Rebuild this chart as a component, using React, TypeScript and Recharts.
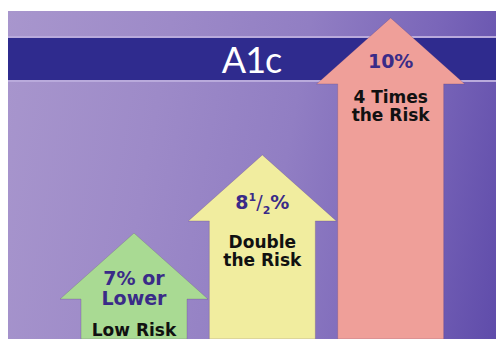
import { Bar, BarChart, Cell, XAxis, YAxis } from 'recharts'

const riskTiers = ['Low', 'Double', 'Four times']
const arrowReach = [32.0, 55.6, 97.0]
const a1cLevels = [['7% or', 'Lower'], ['8½%'], ['10%']]
const riskLabels = [['Low Risk'], ['Double', 'the Risk'], ['4 Times', 'the Risk']]
const bandTitle = 'A1c'

const arrowColors = ['#a9da93', '#f1ed9f', '#ef9f99']
const levelColor = '#3a2b88'
const textFont = '"DejaVu Sans", sans-serif'
const headHeight = 66
const headWidth = 148
// baseline offsets below each arrow tip
const levelOffset = [52, 54, 50]
const riskOffset = [103, 93, 85]

const chartData = riskTiers.map((tier, i) => ({
  tier,
  reach: arrowReach[i],
  level: a1cLevels[i],
  risk: riskLabels[i]
}))

function LevelText({ line, x, y }: { line: string; x: number; y: number }) {
  if (line.includes('½')) {
    const [whole, rest] = line.split('½')
    return (
      <text x={x} y={y} textAnchor="middle" fill={levelColor} fontFamily={textFont} fontWeight="bold" fontSize={19}>
        {whole}
        <tspan fontSize={11} dy={-8}>1</tspan>
        <tspan fontWeight="normal" dy={8}>/</tspan>
        <tspan fontSize={11} dy={5}>2</tspan>
        <tspan dy={-5}>{rest}</tspan>
      </text>
    )
  }
  return (
    <text x={x} y={y} textAnchor="middle" fill={levelColor} fontFamily={textFont} fontWeight="bold" fontSize={19}>
      {line}
    </text>
  )
}

function ArrowShape(props: any) {
  const { x, y, width, height, fill, payload, index } = props
  const cx = x + width / 2
  const neck = y + headHeight
  const bottom = y + height
  const d = [
    `M${cx},${y}`,
    `L${cx + headWidth / 2},${neck}`,
    `L${x + width},${neck}`,
    `L${x + width},${bottom}`,
    `L${x},${bottom}`,
    `L${x},${neck}`,
    `L${cx - headWidth / 2},${neck}`,
    'Z'
  ].join(' ')
  const levelTop = y + levelOffset[index]
  const riskTop = y + riskOffset[index]
  return (
    <g>
      <path d={d} fill={fill} stroke="rgba(90,60,120,0.25)" strokeWidth={1} />
      {payload.level.map((line: string, i: number) => (
        <LevelText key={line} line={line} x={cx} y={levelTop + i * 20} />
      ))}
      {payload.risk.map((line: string, i: number) => (
        <text
          key={line}
          x={cx}
          y={riskTop + i * 18.5}
          textAnchor="middle"
          fill="#111"
          fontFamily={textFont}
          fontWeight="bold"
          fontSize={17}
        >
          {line}
        </text>
      ))}
    </g>
  )
}

export default function App() {
  return (
    <div style={{ position: 'relative', width: 496, height: 331 }}>
      <div
        style={{
          position: 'absolute',
          top: 3,
          left: -1,
          width: 497,
          height: 328,
          background:
            'linear-gradient(100deg, #a896cd 0%, #9d8ac8 30%, #917ec3 55%, #7a66b9 78%, #5d4aa9 100%)'
        }}
      />
      <div
        style={{
          position: 'absolute',
          top: 28,
          left: -1,
          width: 497,
          height: 42,
          boxSizing: 'content-box',
          background: '#2f2b8e',
          borderTop: '2px solid #b9aadc',
          borderBottom: '2px solid #b9aadc',
          color: '#ffffff',
          fontFamily: 'Lato, sans-serif',
          fontSize: 36,
          letterSpacing: -1,
          lineHeight: '42px',
          textAlign: 'center'
        }}
      >
        <span style={{ position: 'relative', left: -4 }}>{bandTitle}</span>
      </div>
      <BarChart
        width={496}
        height={331}
        data={chartData}
        margin={{ top: 0, right: 0, bottom: 0, left: 0 }}
        style={{ position: 'absolute', top: 0, left: 0 }}
      >
        <XAxis dataKey="tier" hide padding={{ left: 62, right: 49 }} />
        <YAxis hide domain={[0, 100]} />
        <Bar dataKey="reach" barSize={106} shape={ArrowShape} isAnimationActive={false}>
          {chartData.map((row, i) => (
            <Cell key={row.tier} fill={arrowColors[i]} />
          ))}
        </Bar>
      </BarChart>
    </div>
  )
}
